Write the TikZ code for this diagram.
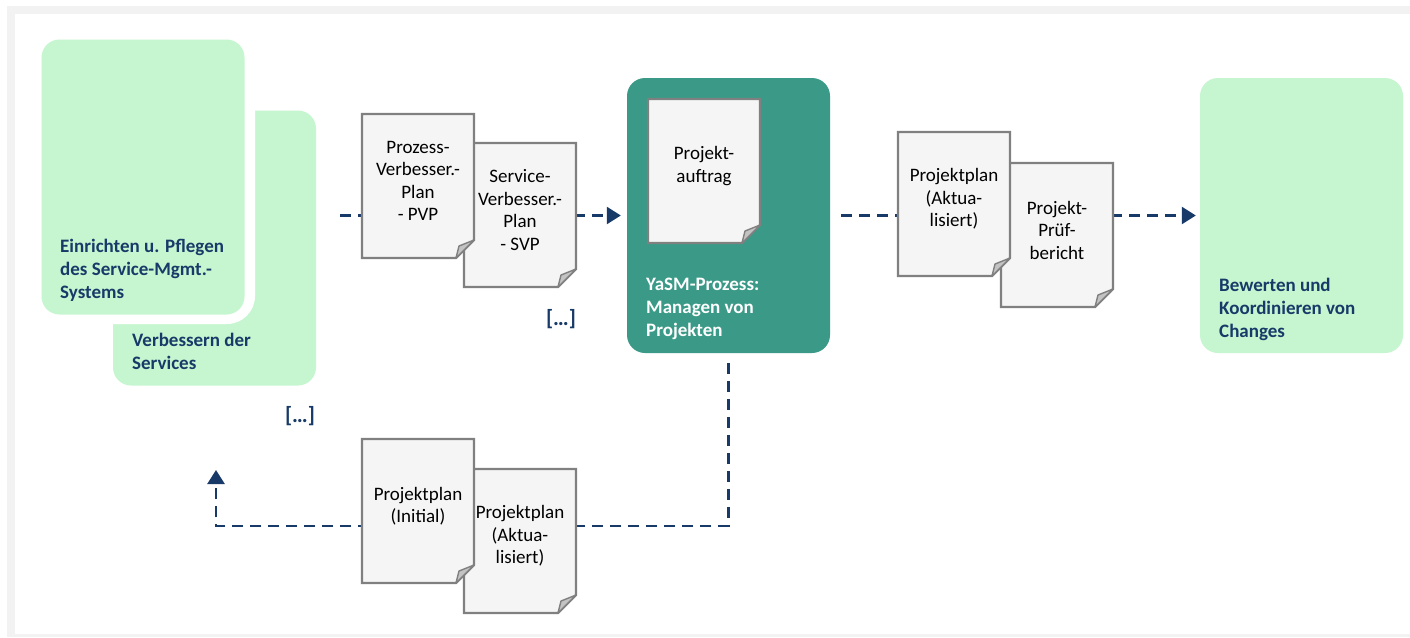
\documentclass[tikz,border=0pt]{standalone}
\usepackage{fontspec}
\setmainfont{Carlito}
\usetikzlibrary{arrows.meta,calc}

\definecolor{ygreen}{RGB}{198,246,208}
\definecolor{yteal}{RGB}{58,154,135}
\definecolor{ynavy}{RGB}{24,58,104}
\definecolor{ypaper}{RGB}{245,245,245}
\definecolor{yedge}{RGB}{128,128,128}
\definecolor{yfold}{RGB}{195,195,195}
\definecolor{yframe}{RGB}{242,242,242}

\tikzset{
    box/.style={
        rounded corners=18pt,
        minimum width=203pt,
        minimum height=275pt,
        inner sep=0pt
    },
    boxtext/.style={
        anchor=north west,
        align=left,
        inner sep=0pt,
        font=\fontsize{19}{22.8}\selectfont\bfseries
    },
    doctext/.style={
        align=center,
        inner sep=0pt,
        font=\fontsize{19}{22.5}\selectfont
    },
    sheet/.style={fill=ypaper, draw=yedge, line width=2.2pt},
    fold/.style={fill=yfold, draw=yedge, line width=1.4pt, line join=round},
    flow/.style={
        draw=ynavy,
        line width=2.5pt,
        dash pattern=on 11pt off 7pt,
        -{Triangle[length=14pt,width=17pt]}
    },
    more/.style={
        text=ynavy,
        inner sep=0pt,
        font=\fontsize{22}{26}\selectfont\bfseries
    }
}

% sheet with folded corner: name, centre, text
\newcommand{\docsheet}[3]{%
    \path[sheet] ($(#2)+(-56,-72)$) -- ($(#2)+(56,-72)$) -- ($(#2)+(56,54)$)
        -- ($(#2)+(38,72)$) -- ($(#2)+(-56,72)$) -- cycle;
    \path[fold] ($(#2)+(38,72)$) -- ($(#2)+(56,54)$) -- ($(#2)+(41,60)$) -- cycle;
    \node[doctext, name=#1] at ($(#2)+(0,-5)$) {#3};
}

\begin{document}
\begin{tikzpicture}[x=1pt, y=-1pt]
    \useasboundingbox (0,0) rectangle (1410,637);

    % frame
    \fill[yframe] (7,6) rectangle (1410,637);
    \fill[white] (15,14) rectangle (1410,634);

    % process boxes
    \node[
        box,
        fill=ygreen,
        name=verbessern
    ] at (214.5,248) {};
    \fill[white, rounded corners=28pt] (31,30) rectangle (255,324);
    \node[
        box,
        fill=ygreen,
        name=einrichten
    ] at (143,177) {};
    \node[
        box,
        fill=yteal,
        name=yasm
    ] at (728.5,215.5) {};
    \node[
        box,
        fill=ygreen,
        name=changes
    ] at (1301.5,215.5) {};

    \node[boxtext, text=ynavy, name=einrichtentext] at (60,239)
        {Einrichten u. Pflegen\\des Service-Mgmt.-\\Systems};
    \node[boxtext, text=ynavy, name=verbesserntext] at (132,333)
        {Verbessern der\\Services};
    \node[boxtext, text=white, name=yasmtext] at (646,278)
        {YaSM-Prozess:\\Managen von\\Projekten};
    \node[boxtext, text=ynavy, name=changestext] at (1219,278)
        {Bewerten und\\Koordinieren von\\Changes};

    % connectors
    \coordinate (in1) at (340,215.5);
    \coordinate (out1) at (841,215.5);
    \coordinate (turn) at (216,526);
    \coordinate (back) at (216,470);

    \draw[flow, shorten >=6pt] (in1) -- (yasm.west);
    \draw[flow, shorten >=4pt] (out1) -- (changes.west);
    \draw[flow, shorten <=10pt] (yasm.south) |- (turn) -- (back);

    % documents
    \docsheet{svp}{520,215}{Service-\\Verbesser.-\\Plan\\- SVP}
    \docsheet{pvp}{418,186}{Prozess-\\Verbesser.-\\Plan\\- PVP}
    \docsheet{auftrag}{704,171}{Projekt-\\auftrag}
    \docsheet{pruef}{1057,235}{Projekt-\\Prüf-\\bericht}
    \docsheet{planakt}{954,204}{Projektplan\\(Aktua-\\lisiert)}
    \docsheet{planakt2}{520,541}{Projektplan\\(Aktua-\\lisiert)}
    \docsheet{planinit}{418,511}{Projektplan\\(Initial)}

    \node[more, name=more1] at (561,319) {[…]};
    \node[more, name=more2] at (300,416) {[…]};
\end{tikzpicture}
\end{document}
